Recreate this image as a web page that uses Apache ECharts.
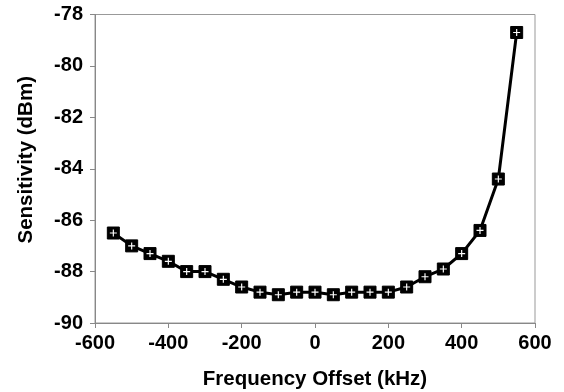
<!DOCTYPE html>
<html>
<head>
<meta charset="utf-8">
<script src="https://cdn.jsdelivr.net/npm/echarts@6/dist/echarts.min.js"></script>
<style>html,body{margin:0;padding:0;background:#fff;}#c{width:564px;height:392px;}</style>
</head>
<body>
<div id="c"></div>
<script>
const frequencyOffset = [-550,-500,-450,-400,-350,-300,-250,-200,-150,-100,-50,0,50,100,150,200,250,300,350,400,450,500,550];
const sensitivity = [-86.5,-87.0,-87.3,-87.6,-88.0,-88.0,-88.3,-88.6,-88.8,-88.9,-88.8,-88.8,-88.9,-88.8,-88.8,-88.8,-88.6,-88.2,-87.9,-87.3,-86.4,-84.4,-78.7];
const xTicks = [-600,-400,-200,0,200,400,600];
const yTicks = [-90,-88,-86,-84,-82,-80,-78];

const pts = frequencyOffset.map((x,i)=>[x, sensitivity[i]]);
const chart = echarts.init(document.getElementById('c'), null, {renderer:'canvas'});
const font = 'Arial, "Liberation Sans", sans-serif';
chart.setOption({
  animation:false,
  grid:{left:95, right:29, top:14.5, bottom:69, containLabel:false, outerBoundsMode:'none',
        show:true, borderColor:'#999', borderWidth:1},
  xAxis:{
    type:'value', min:xTicks[0], max:xTicks[xTicks.length-1], interval:200,
    name:'Frequency Offset (kHz)', nameLocation:'middle', nameGap:46,
    nameTextStyle:{fontFamily:font, fontWeight:'bold', fontSize:20.5, color:'#000'},
    axisLine:{show:true, onZero:false, lineStyle:{color:'#888', width:1}},
    axisTick:{show:true, inside:false, length:5, lineStyle:{color:'#888'}},
    axisLabel:{fontFamily:font, fontWeight:'bold', fontSize:20, color:'#000', margin:10},
    splitLine:{show:false}
  },
  yAxis:{
    type:'value', min:yTicks[0], max:yTicks[yTicks.length-1], interval:2,
    name:'Sensitivity (dBm)', nameLocation:'middle', nameGap:58,
    nameTextStyle:{fontFamily:font, fontWeight:'bold', fontSize:20.5, color:'#000', padding:[0,0,0,18]},
    axisLine:{show:true, onZero:false, lineStyle:{color:'#888', width:1}},
    axisTick:{show:true, inside:false, length:5, lineStyle:{color:'#888'}},
    axisLabel:{fontFamily:font, fontWeight:'bold', fontSize:20, color:'#000', margin:12},
    splitLine:{show:false}
  },
  series:[
    {type:'line', data:pts, symbol:'rect', symbolSize:12, showSymbol:true,
     lineStyle:{color:'#000', width:3}, itemStyle:{color:'#000', borderColor:'#000'}, z:2},
    {type:'scatter', data:pts, symbol:'path://M2.5,0h1v2.5h2.5v1h-2.5v2.5h-1v-2.5h-2.5v-1h2.5z', symbolSize:7,
     itemStyle:{color:'#fff', opacity:1}, z:3}
  ]
});
</script>
</body>
</html>
